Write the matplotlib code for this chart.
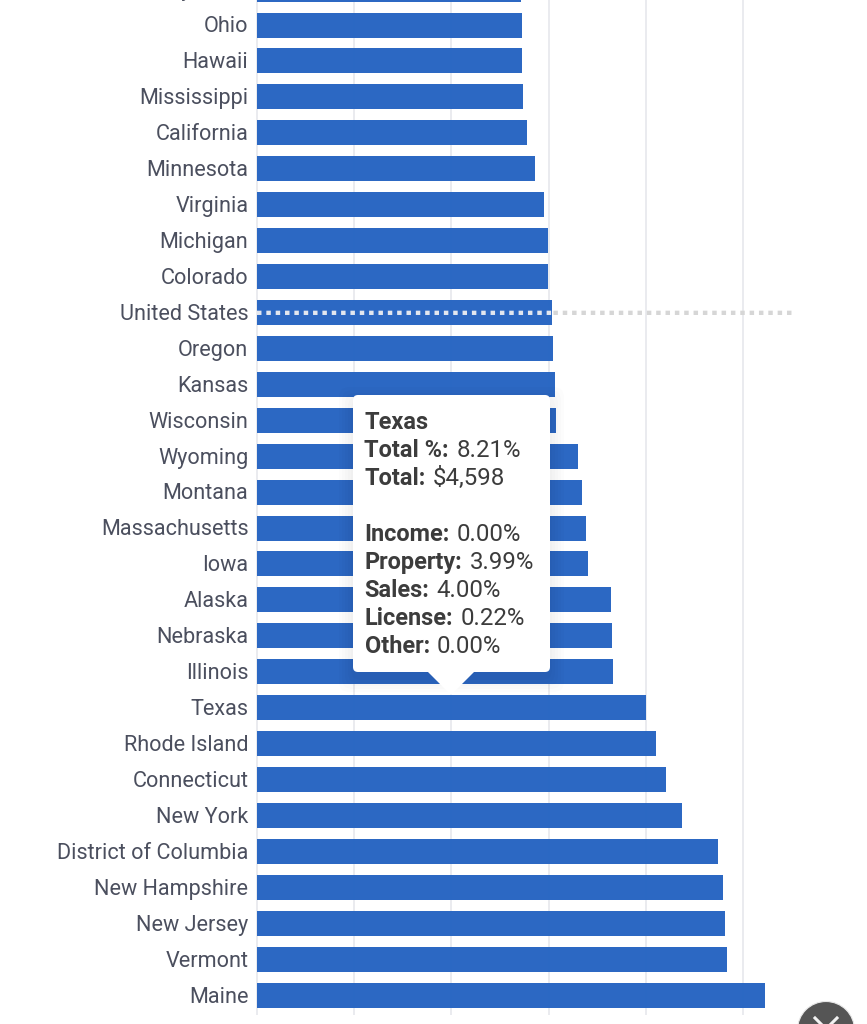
import matplotlib
matplotlib.use('Agg')
import matplotlib.pyplot as plt
import matplotlib.patches as mpatches

plt.rcParams['font.family'] = ['Roboto', 'DejaVu Sans']

# Total state and local tax burden, percent of income
states = ['Pennsylvania', 'Ohio', 'Hawaii', 'Mississippi', 'California', 'Minnesota',
          'Virginia', 'Michigan', 'Colorado', 'United States', 'Oregon', 'Kansas',
          'Wisconsin', 'Wyoming', 'Montana', 'Massachusetts', 'Iowa', 'Alaska',
          'Nebraska', 'Illinois', 'Texas', 'Rhode Island', 'Connecticut', 'New York',
          'District of Columbia', 'New Hampshire', 'New Jersey', 'Vermont', 'Maine']
totals = [5.58, 5.60, 5.60, 5.62, 5.70, 5.87,
          6.06, 6.15, 6.15, 6.23, 6.25, 6.29,
          6.31, 6.77, 6.87, 6.94, 6.98, 7.47,
          7.49, 7.51, 8.21, 8.42, 8.64, 8.98,
          9.74, 9.85, 9.89, 9.93, 10.73]
grid_values = [0, 2.05, 4.10, 6.16, 8.21, 10.26]
average_name = 'United States'
average_end = 11.3

# Tooltip rows: bold heading, plain value
tip_rows = [('Texas', ''), ('Total %:', '8.21%'), ('Total:', '$4,598'), ('', ''),
            ('Income:', '0.00%'), ('Property:', '3.99%'), ('Sales:', '4.00%'),
            ('License:', '0.22%'), ('Other:', '0.00%')]

W, H = 867, 1024
PX_PER_UNIT = 47.35
ROW = 35.93
X0 = 257
Y0 = -10.9

BLUE = '#2765c2'
LABEL = '#4b4f5e'
TIP_TEXT = '#3c3c3c'

fig = plt.figure(figsize=(W / 100, H / 100), dpi=100, facecolor='white')
ax = fig.add_axes([0, 0, 1, 1])
ax.set_xlim(-X0 / PX_PER_UNIT, (W - X0) / PX_PER_UNIT)
ax.set_ylim((H - Y0) / ROW, -Y0 / ROW)
ax.axis('off')

rows = list(range(len(states)))
ax.vlines(grid_values, -1, 28.55, color='#e6e7ec', linewidth=1.2, zorder=1)
ax.barh(rows, totals, height=0.695, color=BLUE, alpha=0.98, linewidth=0, zorder=2)

for i, name in zip(rows, states):
    ax.text(-0.18, i + 0.205, name, ha='right', va='baseline', fontsize=15.6,
            color=LABEL, clip_on=False, zorder=3)

# Dotted average line, lighter where it crosses its own bar
avg_row = states.index(average_name)
avg_value = totals[avg_row]
dots = (0, (1.04, 1.13))
ax.plot([0, avg_value], [avg_row + 0.01, avg_row + 0.01], color='#e3e7ef', linewidth=3.1,
        linestyle=dots, snap=False, zorder=3)
ax.plot([avg_value + 0.03, average_end], [avg_row + 0.01, avg_row + 0.01], color='#d6d6d6',
        linewidth=3.1, linestyle=dots, snap=False, zorder=3)

# Pixel-space overlay for the tooltip and the close button
ov = fig.add_axes([0, 0, 1, 1], facecolor='none')
ov.set_xlim(0, W)
ov.set_ylim(H, 0)
ov.axis('off')

# Soft shadow built from stacked faint copies, falling mostly below the box
for grow in [14, 11, 8, 5, 2]:
    shadow = mpatches.FancyBboxPatch((353 - grow, 401 - grow), 197 + 2 * grow, 277 + 2 * grow,
                                     boxstyle='round,pad=0,rounding_size=10', linewidth=0,
                                     facecolor='black', alpha=0.012, zorder=4)
    ov.add_patch(shadow)

ov.add_patch(mpatches.FancyBboxPatch((353, 395), 197, 277,
                                     boxstyle='round,pad=0,rounding_size=5', linewidth=0,
                                     facecolor='white', zorder=5))
ov.add_patch(mpatches.Polygon([(427, 671), (475, 671), (451, 695)], closed=True, linewidth=0,
                              facecolor='white', zorder=5))

for n, (head, val) in enumerate(tip_rows):
    if not head:
        continue
    baseline = 429.2 + 28 * n
    label = ov.text(364.5, baseline, head, fontsize=16.9, fontweight='bold', color=TIP_TEXT,
                    va='baseline', ha='left', zorder=6)
    if val:
        ov.annotate(val, xy=(1, 0), xycoords=label, xytext=(5.2, 0), textcoords='offset points',
                    fontsize=17.3, color=TIP_TEXT, va='bottom', ha='left', zorder=6)

# Close button, cut off by the lower edge
ov.add_patch(mpatches.Circle((826, 1030), 28.5, facecolor='#555555', edgecolor='#e8e8e8',
                             linewidth=0.8, zorder=7))
ov.plot([815, 837], [1018, 1040], color='#f2f2f2', linewidth=2.2, zorder=8)
ov.plot([837, 815], [1018, 1040], color='#f2f2f2', linewidth=2.2, zorder=8)

fig.savefig('out.png', dpi=100)
